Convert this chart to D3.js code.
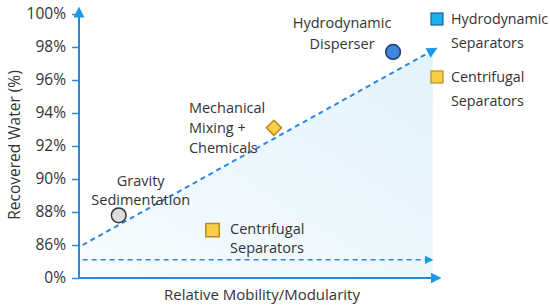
<!DOCTYPE html>
<html>
<head>
<meta charset="utf-8">
<script src="https://cdn.jsdelivr.net/npm/d3@7"></script>
<style>
  body { margin: 0; background: #fff; }
  text { font-family: "Open Sans", sans-serif; fill: #333; }
</style>
</head>
<body>
<div id="chart"></div>
<script>
// values
let methods = ["Gravity Sedimentation", "Centrifugal Separators", "Mechanical Mixing + Chemicals", "Hydrodynamic Disperser"];
let mobility = [1.1, 3.7, 5.4, 8.7];
let recovered = [87.8, 86.9, 93.1, 97.7];
let shapes = ["circle", "square", "diamond", "circle"];
let fills = ["#dcdcdc", "#f7cf4a", "#f7cf4a", "#3f86e0"];
let labelLines = [["Gravity", "Sedimentation"], ["Centrifugal", "Separators"], ["Mechanical", "Mixing +", "Chemicals"], ["Hydrodynamic", "Disperser"]];

let yTicks = [84, 86, 88, 90, 92, 94, 96, 98, 100];
let yTickLabels = ["0%", "86%", "88%", "90%", "92%", "94%", "96%", "98%", "100%"];

let legendNames = [["Hydrodynamic", "Separators"], ["Centrifugal", "Separators"]];
let legendColors = ["#1ab0ec", "#f7cf4a"];

// trend line and baseline (in data units)
let trend = [[0.1, 86.0], [9.8, 97.8]];
let baseline = [[0.1, 85.1], [9.7, 85.1]];

let width = 550, height = 307;
let blue = "#2b88dc";

let svg = d3.select("#chart").append("svg")
    .attr("width", width)
    .attr("height", height);

let x = d3.scaleLinear().domain([0, 10]).range([79, 440]);
let y = d3.scaleLinear().domain([84, 100]).range([278, 14]);

let defs = svg.append("defs");
let grad = defs.append("linearGradient")
    .attr("id", "shade")
    .attr("x1", "0%").attr("y1", "100%")
    .attr("x2", "100%").attr("y2", "0%");
grad.append("stop").attr("offset", "0%").attr("stop-color", "#f6fbfe");
grad.append("stop").attr("offset", "100%").attr("stop-color", "#e2f3fc");

defs.append("marker")
    .attr("id", "arrow")
    .attr("viewBox", "0 0 10 10")
    .attr("refX", 5).attr("refY", 5)
    .attr("markerWidth", 5.5).attr("markerHeight", 5.5)
    .attr("orient", "auto")
    .append("path")
    .attr("d", "M0,0 L10,5 L0,10 z")
    .style("fill", "#1a9ae6");

// shaded area under the trend
let area = [[x(trend[0][0]), y(trend[0][1])], [x(trend[1][0]), y(trend[1][1])], [x(trend[1][0]), y(84)], [x(0), y(84)], [x(0), y(trend[0][1])]];
svg.append("path")
    .attr("d", d3.line()(area) + "Z")
    .style("fill", "url(#shade)");

// axes
let yAxis = d3.axisLeft(y)
    .tickValues(yTicks)
    .tickFormat((d, i) => yTickLabels[i])
    .tickSize(7)
    .tickPadding(6);

let gy = svg.append("g")
    .attr("transform", "translate(" + x(0) + ",0)")
    .call(yAxis);
gy.select(".domain").remove();
gy.selectAll(".tick line").style("stroke", blue).style("stroke-width", 1.5);
gy.selectAll(".tick text")
    .style("font-size", "15.5px")
    .style("fill", "#333")
    .style("font-family", "'Open Sans', sans-serif");

svg.append("line")
    .attr("x1", x(0)).attr("y1", y(84))
    .attr("x2", x(0)).attr("y2", 12)
    .style("stroke", blue).style("stroke-width", 2)
    .attr("marker-end", "url(#arrow)");

svg.append("line")
    .attr("x1", x(0)).attr("y1", y(84))
    .attr("x2", 436).attr("y2", y(84))
    .style("stroke", blue).style("stroke-width", 2)
    .attr("marker-end", "url(#arrow)");

// dashed lines
svg.append("line")
    .attr("x1", x(baseline[0][0])).attr("y1", y(baseline[0][1]))
    .attr("x2", x(baseline[1][0])).attr("y2", y(baseline[1][1]))
    .style("stroke", blue).style("stroke-width", 1.5)
    .style("stroke-dasharray", "5,4")
    .attr("marker-end", "url(#arrow)");

svg.append("line")
    .attr("x1", x(trend[0][0])).attr("y1", y(trend[0][1]))
    .attr("x2", x(trend[1][0])).attr("y2", y(trend[1][1]))
    .style("stroke", blue).style("stroke-width", 2)
    .style("stroke-dasharray", "5,4")
    .attr("marker-end", "url(#arrow)");

// points
svg.selectAll(".pt")
    .data(methods)
    .enter()
    .append("path")
    .attr("class", "pt")
    .attr("transform", (d, i) => "translate(" + x(mobility[i]) + "," + y(recovered[i]) + ")" + (shapes[i] === "diamond" ? " rotate(45)" : ""))
    .attr("d", (d, i) => {
        if (shapes[i] === "circle") return d3.symbol().type(d3.symbolCircle).size(170)();
        if (shapes[i] === "square") return d3.symbol().type(d3.symbolSquare).size(180)();
        return d3.symbol().type(d3.symbolSquare).size(115)();
    })
    .style("fill", (d, i) => fills[i])
    .style("stroke", (d, i) => i === 0 ? "#333" : (i === 3 ? "#1d3f6e" : "#b88a1a"))
    .style("stroke-width", 1.5);

// point labels
let labelPos = [
    { dx: 22, dy: -34, anchor: "middle" },
    { dx: 17.5, dy: -1, anchor: "start" },
    { dx: -85, dy: -20, anchor: "start" },
    { dx: -51, dy: -29, anchor: "middle" }
];
let lineGap = [18.5, 18.5, 20, 21];

methods.forEach(function (m, i) {
    let t = svg.append("text")
        .attr("text-anchor", labelPos[i].anchor)
        .style("font-size", "14.5px");
    labelLines[i].forEach(function (s, j) {
        t.append("tspan")
            .attr("x", x(mobility[i]) + labelPos[i].dx)
            .attr("y", y(recovered[i]) + labelPos[i].dy + j * lineGap[i])
            .attr("dy", "0.35em")
            .text(s);
    });
});

// legend
legendNames.forEach(function (n, i) {
    let ly = 19 + i * 58;
    svg.append("rect")
        .attr("x", 431).attr("y", ly - 6)
        .attr("width", 12).attr("height", 12)
        .style("fill", legendColors[i])
        .style("stroke", i === 0 ? "#1d5f9e" : "#b88a1a")
        .style("stroke-width", 1.2);
    let t = svg.append("text").style("font-size", "14.3px");
    n.forEach(function (s, j) {
        t.append("tspan")
            .attr("x", 451)
            .attr("y", ly + j * 23.5)
            .attr("dy", "0.35em")
            .text(s);
    });
});

// axis titles
svg.append("text")
    .attr("transform", "translate(15," + 145 + ") rotate(-90)")
    .attr("text-anchor", "middle")
    .attr("dy", "0.35em")
    .style("font-size", "15.5px")
    .text("Recovered Water (%)");

svg.append("text")
    .attr("x", 262).attr("y", 295)
    .attr("text-anchor", "middle")
    .attr("dy", "0.35em")
    .style("font-size", "15px")
    .text("Relative Mobility/Modularity");
</script>
</body>
</html>
